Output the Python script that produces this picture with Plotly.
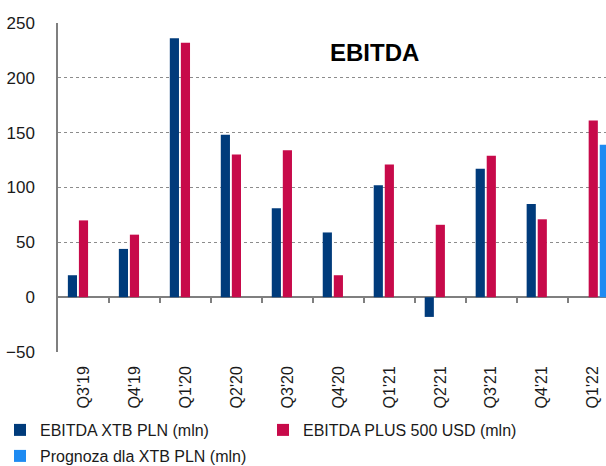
import plotly.graph_objects as go

categories = ["Q3'19", "Q4'19", "Q1'20", "Q2'20", "Q3'20", "Q4'20",
              "Q1'21", "Q2'21", "Q3'21", "Q4'21", "Q1'22"]
xtb_ebitda = [20, 44, 236, 148, 81, 59, 102, -18, 117, 85, None]
plus500_ebitda = [70, 57, 232, 130, 134, 20, 121, 66, 129, 71, 161]
xtb_forecast = [None, None, None, None, None, None, None, None, None, None, 139]
y_tick_values = [-50, 0, 50, 100, 150, 200, 250]
boundary_ticks = [0.5, 1.5, 2.5, 3.5, 4.5, 5.5, 6.5, 7.5, 8.5, 9.5]

FONT = "Liberation Sans, Arial, sans-serif"
C_XTB = "#003B7B"
C_P500 = "#C70A4A"
C_PROG = "#1E8BF2"
GRID = "#8c8c8c"
AXIS = "#7f7f7f"
TXT = "#1a1a1a"

W, H = 606, 466

fig = go.Figure()
fig.add_trace(go.Bar(x=categories, y=xtb_ebitda, name="EBITDA XTB PLN (mln)",
                     marker=dict(color=C_XTB, line=dict(width=0)), legend="legend"))
fig.add_trace(go.Bar(x=categories, y=plus500_ebitda, name="EBITDA PLUS 500 USD (mln)",
                     marker=dict(color=C_P500, line=dict(width=0)), legend="legend2"))
fig.add_trace(go.Bar(x=categories, y=xtb_forecast, name="Prognoza dla XTB PLN (mln)",
                     marker=dict(color=C_PROG, line=dict(width=0)), legend="legend3"))
# invisible helper trace so the category-boundary tick axis is drawn at the zero line
fig.add_trace(go.Scatter(x=[None], y=[None], xaxis="x2", yaxis="y",
                         showlegend=False, hoverinfo="skip", mode="markers"))


def leg(x_px, y_px):
    return dict(orientation="h", xref="container", yref="container",
                x=x_px / W, y=(H - y_px) / H,
                xanchor="left", yanchor="middle",
                font=dict(size=16, family=FONT, color=TXT),
                bgcolor="rgba(0,0,0,0)", borderwidth=0)


fig.update_layout(
    width=W, height=H,
    margin=dict(l=58, r=0, t=23, b=466 - 352, autoexpand=False),
    paper_bgcolor="white", plot_bgcolor="white",
    font=dict(family=FONT, color=TXT),
    barmode="group", bargap=0.35, bargroupgap=0.17,
    showlegend=True,
    xaxis=dict(type="category", range=[-0.5, 10.25], showgrid=False, zeroline=False,
               showline=False, ticks="", tickangle=-90, ticklabelstandoff=10,
               automargin=False,
               tickfont=dict(size=16, family=FONT, color=TXT)),
    xaxis2=dict(overlaying="x", anchor="free", position=1/6, side="bottom",
                range=[-0.5, 10.25], tickvals=boundary_ticks, showticklabels=False,
                ticks="outside", ticklen=5, tickwidth=1.5, tickcolor=AXIS,
                showgrid=False, zeroline=False, showline=False, automargin=False),
    yaxis=dict(range=[-50, 250], tickvals=y_tick_values, showgrid=True,
               gridcolor=GRID, griddash="dot", gridwidth=1,
               zeroline=True, zerolinecolor=AXIS, zerolinewidth=1.5,
               showline=True, linecolor=AXIS, linewidth=1.5,
               ticks="", ticklabelstandoff=18, automargin=False,
               tickfont=dict(size=17, family=FONT, color=TXT)),
    legend=leg(0, 430),
    legend2=leg(263, 430),
    legend3=leg(0, 456),
    annotations=[dict(text="<b>EBITDA</b>", xref="paper", yref="paper",
                      x=(374 - 58) / 548, y=(352 - 52) / 329,
                      xanchor="center", yanchor="middle", showarrow=False,
                      font=dict(size=24, family=FONT, color="#000000"))],
)

fig.write_html(
    "out.html",
    config={"displayModeBar": False},
    post_script="document.body.style.margin='0';"
                "document.body.style.overflow='hidden';"
                "document.documentElement.style.overflow='hidden';",
)
